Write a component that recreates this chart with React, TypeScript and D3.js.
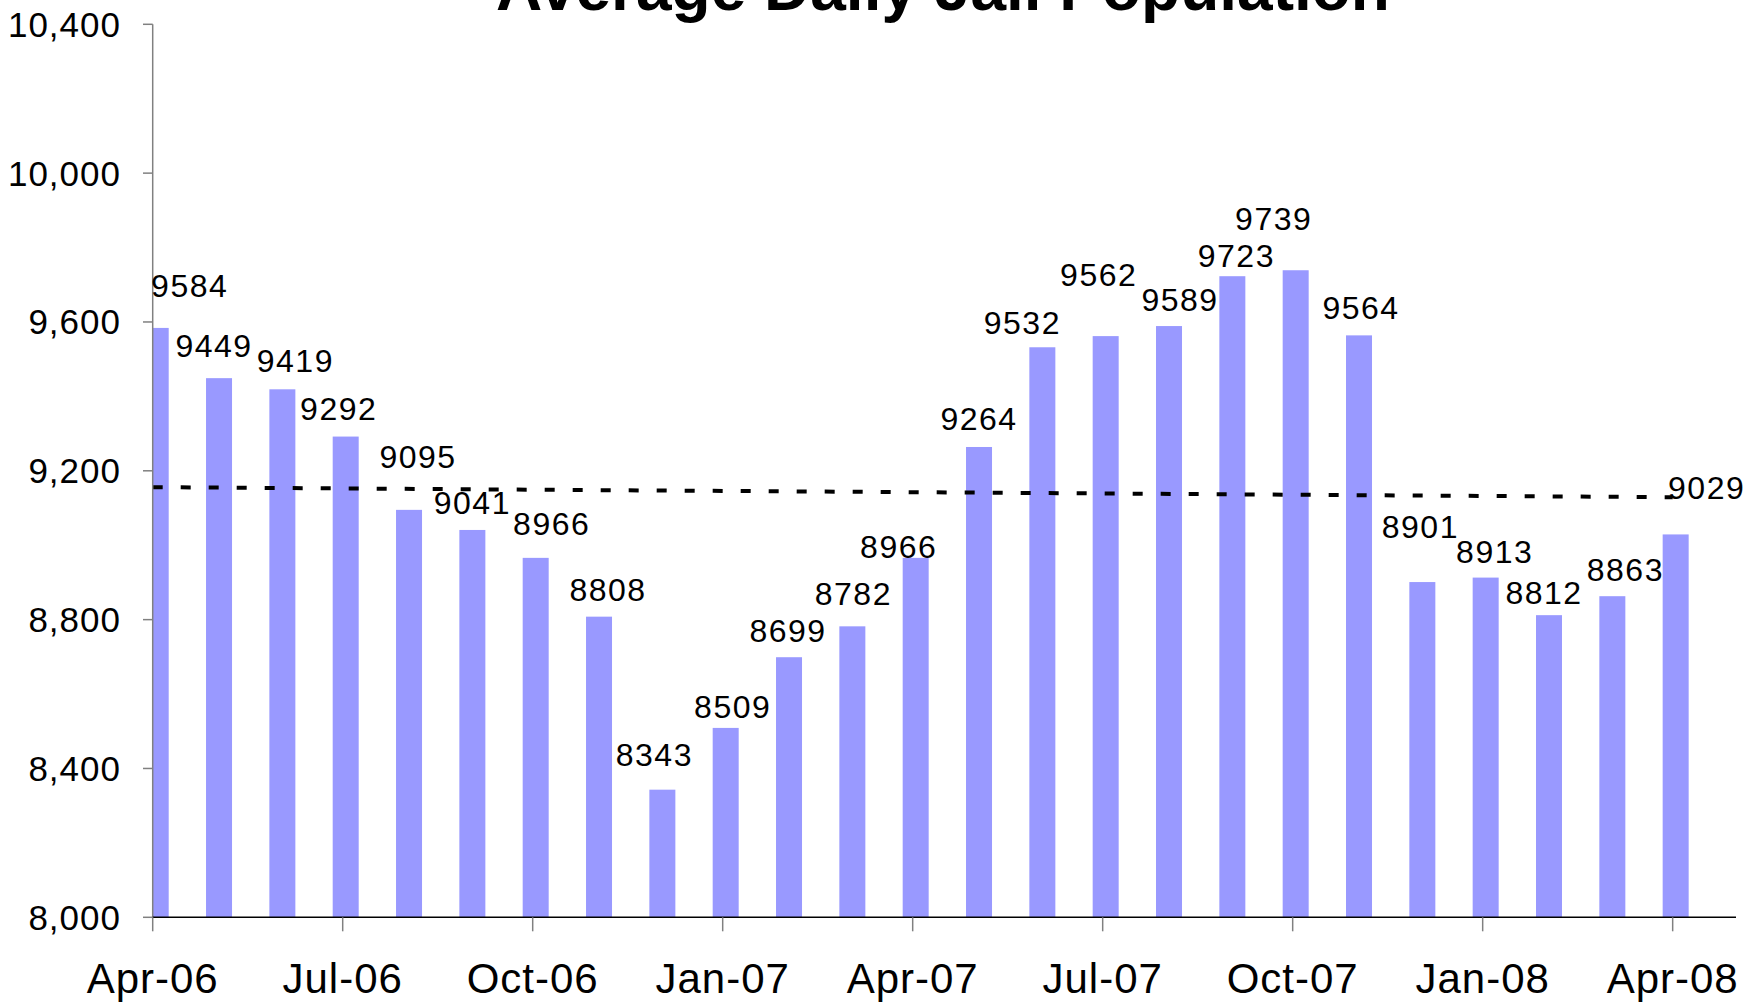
import React from "react";
import * as d3 from "d3";

// monthly average daily jail population, Apr-06 .. Apr-08
const months = [
  "Apr-06", "May-06", "Jun-06", "Jul-06", "Aug-06", "Sep-06", "Oct-06", "Nov-06", "Dec-06",
  "Jan-07", "Feb-07", "Mar-07", "Apr-07", "May-07", "Jun-07", "Jul-07", "Aug-07", "Sep-07",
  "Oct-07", "Nov-07", "Dec-07", "Jan-08", "Feb-08", "Mar-08", "Apr-08",
];
const population = [
  9584, 9449, 9419, 9292, 9095, 9041, 8966, 8808, 8343,
  8509, 8699, 8782, 8966, 9264, 9532, 9562, 9589, 9723,
  9739, 9564, 8901, 8913, 8812, 8863, 9029,
];
const yTicks = [8000, 8400, 8800, 9200, 9600, 10000, 10400];
const xTickMonths = ["Apr-06", "Jul-06", "Oct-06", "Jan-07", "Apr-07", "Jul-07", "Oct-07", "Jan-08", "Apr-08"];
// dashed trend line, value read at Apr-06 and at Apr-08
const trendMonths = ["Apr-06", "Apr-08"];
const trendValues = [9156, 9129];

// the labels were dragged by hand in the original; nudge (px) from the default spot
const labelNudge = [
  [34, -16], [-5, -6], [13, -2], [-7, -2], [9, -27], [0, -1], [16, -8], [9, -1], [-8, -9],
  [7, 5], [-1, 0], [1, -6], [-17, 15], [0, -2], [-20, 2], [-7, -35], [11, 0], [4, 6],
  [-22, -25], [2, -1], [-2, -29], [9, 0], [-5, 4], [13, 0], [31, -20],
];

const width = 1761;
const height = 1006;
const font = "'Liberation Sans', Arial, sans-serif";

export default function App() {
  const x = d3.scaleLinear().domain([0, 25]).range([152.7, 1736]);
  const y = d3.scaleLinear().domain([8000, 10400]).range([917.3, 24.3]);
  const barW = 26;
  const shift = 3;

  const trendLine = d3
    .line<number>()
    .x((_, i) => x(months.indexOf(trendMonths[i])))
    .y((d) => y(d));

  return (
    <svg
      width={width}
      height={height}
      style={{ position: "absolute", left: 0, top: 0, background: "#fff" }}
      fontFamily={font}
    >
      <defs>
        <clipPath id="plot">
          <rect x={x(0)} y={0} width={width - x(0)} height={y(8000)} />
        </clipPath>
      </defs>

      <text x={943} y={9.5} textAnchor="middle" fontSize={64} fontWeight="bold">
        Average Daily Jail Population
      </text>

      <g clipPath="url(#plot)">
        {population.map((v, i) => (
          <rect
            key={months[i]}
            x={x(i) + shift - barW / 2}
            y={y(v)}
            width={barW}
            height={y(8000) - y(v)}
            fill="#9999ff"
          />
        ))}
      </g>

      <path
        d={trendLine(trendValues) || ""}
        fill="none"
        stroke="#000"
        strokeWidth={4}
        strokeDasharray="10 18"
      />

      {/* y axis */}
      <line x1={x(0)} x2={x(0)} y1={y(10400)} y2={y(8000)} stroke="#808080" strokeWidth={1.5} />
      {yTicks.map((t) => (
        <g key={t}>
          <line x1={143} x2={x(0)} y1={y(t)} y2={y(t)} stroke="#808080" strokeWidth={1.5} />
          <text x={121} y={y(t) + 12.5} textAnchor="end" fontSize={35} letterSpacing={1}>
            {d3.format(",")(t)}
          </text>
        </g>
      ))}

      {/* x axis */}
      <line x1={x(0)} x2={x(25)} y1={y(8000)} y2={y(8000)} stroke="#000" strokeWidth={1.5} />
      {xTickMonths.map((m) => {
        const i = months.indexOf(m);
        return (
          <g key={m}>
            <line x1={x(i)} x2={x(i)} y1={y(8000)} y2={y(8000) + 14} stroke="#808080" strokeWidth={1.5} />
            <text x={x(i)} y={993} textAnchor="middle" fontSize={42} letterSpacing={1}>
              {m}
            </text>
          </g>
        );
      })}

      {/* data labels */}
      {population.map((v, i) => (
        <text
          key={"l" + months[i]}
          x={x(i) + shift + labelNudge[i][0]}
          y={y(v) - 15 + labelNudge[i][1]}
          textAnchor="middle"
          fontSize={32}
          letterSpacing={1.5}
        >
          {v}
        </text>
      ))}
    </svg>
  );
}
